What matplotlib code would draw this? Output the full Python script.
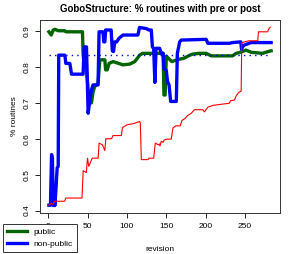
import matplotlib
matplotlib.use("Agg")
import matplotlib.pyplot as plt

plt.rcParams['font.family'] = ['Liberation Sans', 'DejaVu Sans']

# all routines (thin red)
all_rev = [1, 4, 6, 8, 21, 22.5, 43, 44.5, 48.5, 50, 51.6, 56, 63.5, 64.7, 69, 72, 73.2,
           80.4, 82.4, 93, 94.3, 100, 108, 116, 117, 118.3, 126.7, 128, 134, 136, 140,
           141, 142, 143.6, 146, 147, 150, 156.3, 158.4, 161.8, 167.7, 169.8, 174, 176.6,
           181.6, 185.8, 196.3, 198.5, 202.7, 209, 230, 231.5, 236.5, 238.6, 241.9, 245,
           245.7, 249, 255, 266, 267, 278.6, 280, 282]
all_val = [0.415, 0.421, 0.417, 0.426, 0.426, 0.435, 0.435, 0.511, 0.506, 0.546, 0.523,
           0.546, 0.546, 0.588, 0.583, 0.567, 0.600, 0.600, 0.609, 0.609, 0.631, 0.639,
           0.642, 0.648, 0.645, 0.542, 0.542, 0.546, 0.546, 0.588, 0.583, 0.586, 0.580,
           0.593, 0.590, 0.596, 0.599, 0.599, 0.630, 0.636, 0.636, 0.651, 0.657, 0.664,
           0.671, 0.681, 0.681, 0.675, 0.688, 0.693, 0.699, 0.706, 0.708, 0.719, 0.729,
           0.733, 0.867, 0.870, 0.873, 0.873, 0.898, 0.898, 0.906, 0.911]

# public routines (green)
pub_rev = [1, 4, 6.5, 8.6, 12.8, 21, 22.5, 43.6, 44.5, 45.7, 48, 50, 52, 55, 57, 59, 63.4,
           65.6, 72, 73, 75, 77.4, 82.4, 95, 103.5, 110, 116.2, 120, 133, 146, 147, 148.5,
           150, 157, 165, 172, 180, 183.7, 192, 200.6, 207, 234, 238.6, 242.8, 251, 257.6,
           272, 280.8, 283]
pub_val = [0.898, 0.889, 0.903, 0.905, 0.901, 0.901, 0.898, 0.898, 0.833, 0.810, 0.805,
           0.760, 0.700, 0.700, 0.730, 0.745, 0.755, 0.820, 0.820, 0.792, 0.792, 0.810,
           0.815, 0.806, 0.808, 0.815, 0.833, 0.838, 0.838, 0.838, 0.722, 0.722, 0.830,
           0.815, 0.821, 0.824, 0.833, 0.836, 0.838, 0.838, 0.831, 0.831, 0.838, 0.840,
           0.847, 0.841, 0.838, 0.844, 0.845]

# non-public routines (blue)
npub_rev = [1, 3, 4.4, 5.5, 6.5, 7.8, 8.6, 9.9, 11.5, 12.8, 13.5, 21.3, 22.5, 27.6, 29.7,
            44.4, 45.7, 48.7, 50.8, 53, 55, 57, 63.4, 64.7, 69.7, 70.6, 72, 73, 80, 81.5,
            83, 84.5, 87, 90, 95, 114, 116, 124.7, 128, 131, 132.3, 134, 135.5, 137,
            141.5, 143.7, 146, 147, 150, 151.5, 153.5, 155.5, 162.7, 164, 167, 169,
            200.6, 202.7, 230, 234, 244.5, 245.5, 246.5, 249, 257.6, 283]
npub_val = [0.415, 0.415, 0.556, 0.545, 0.414, 0.440, 0.414, 0.458, 0.519, 0.523, 0.833,
            0.833, 0.810, 0.810, 0.780, 0.780, 0.856, 0.856, 0.671, 0.708, 0.736, 0.750,
            0.750, 0.898, 0.898, 0.870, 0.870, 0.903, 0.903, 0.845, 0.843, 0.870, 0.870,
            0.880, 0.889, 0.889, 0.910, 0.907, 0.903, 0.903, 0.856, 0.852, 0.757, 0.852,
            0.852, 0.838, 0.838, 0.796, 0.790, 0.760, 0.750, 0.704, 0.704, 0.838, 0.870,
            0.875, 0.877, 0.866, 0.866, 0.868, 0.870, 0.849, 0.856, 0.861, 0.868, 0.868]

ref_level = 0.833

fig = plt.figure(figsize=(2.94, 2.54), dpi=100)
ax = fig.add_axes([40/294, 41.3/254, 240/294, 192.7/254])

lp, = ax.plot(pub_rev, pub_val, color='#006400', lw=2.4, label='public')
lnp, = ax.plot(npub_rev, npub_val, color='#0000ff', lw=2.4, label='non-public')
ax.plot(all_rev, all_val, color='#ff0000', lw=0.8)
ax.hlines(ref_level, min(all_rev), max(all_rev), colors='#0000cc', linestyles=(0, (1, 3)), lw=1)

ax.margins(x=0.04, y=0.04)
ax.set_xticks([0, 50, 100, 150, 200, 250])
ax.set_yticks([0.4, 0.5, 0.6, 0.7, 0.8, 0.9])
ax.tick_params(labelsize=6, length=3.6, width=0.6, pad=3.5)
for lab in ax.get_yticklabels():
    lab.set_rotation(90)
    lab.set_va('center')
for s in ax.spines.values():
    s.set_linewidth(0.7)
    s.set_color('#333333')

ax.set_title('GoboStructure: % routines with pre or post', fontsize=7,
             fontweight='bold', pad=6)
ax.set_xlabel('revision', fontsize=6, labelpad=12)
ax.set_ylabel('% routines', fontsize=6, labelpad=4)

leg = fig.legend(handles=[lp, lnp], loc='lower left', bbox_to_anchor=(3/294, 2/254),
                 fontsize=6, frameon=True, fancybox=False, edgecolor='#333333',
                 framealpha=1, handlelength=2.4, handletextpad=0.8, labelspacing=0.45,
                 borderpad=0.5, borderaxespad=0)
leg.get_frame().set_linewidth(0.7)

fig.savefig('out.png', dpi=100)
